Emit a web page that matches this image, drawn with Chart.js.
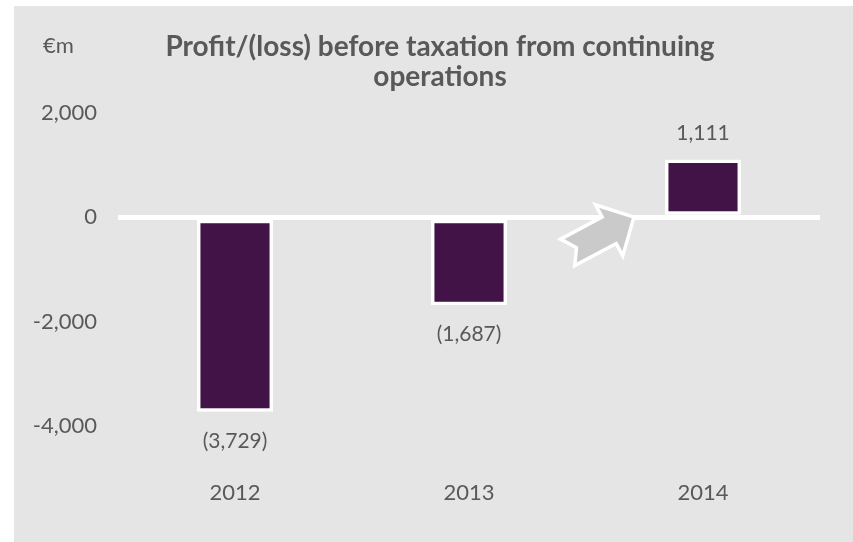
<!DOCTYPE html>
<html>
<head>
<meta charset="utf-8">
<script src="https://cdn.jsdelivr.net/npm/chart.js@4"></script>
<style>
  html, body { margin: 0; padding: 0; background: #fff; }
</style>
</head>
<body>
<canvas id="bar-chart" width="853" height="542"></canvas>
<script>
var years = ['2012', '2013', '2014'];
var profit = [-3729, -1687, 1111];
var yMin = -4000, yMax = 2000, yStep = 2000;
var titleLines = ['Profit/(loss) before taxation from continuing', 'operations'];
var unitLabel = '€m';

var textColor = '#595959';
var fontName = 'Lato, "Open Sans", sans-serif';

function fmt(v) {
  var s = Math.abs(v).toLocaleString('en-US');
  return v < 0 ? '(' + s + ')' : s;
}

// grey panel behind everything
var panelPlugin = {
  id: 'panel',
  beforeDraw: function(chart) {
    var c = chart.ctx;
    c.save();
    c.fillStyle = '#ffffff';
    c.fillRect(0, 0, chart.width, chart.height);
    c.fillStyle = '#e5e5e5';
    c.fillRect(14, 6, chart.width - 14, chart.height - 6);
    c.restore();
  }
};

// unit + two line title
var titlePlugin = {
  id: 'titleText',
  afterDraw: function(chart) {
    var c = chart.ctx;
    c.save();
    c.fillStyle = textColor;
    c.textBaseline = 'alphabetic';
    c.font = '22px ' + fontName;
    c.textAlign = 'left';
    c.fillText(unitLabel, 43, 53);
    c.font = 'bold 28px ' + fontName;
    c.textAlign = 'center';
    c.fillText(titleLines[0], 440, 56);
    c.fillText(titleLines[1], 440, 86);
    c.restore();
  }
};

// value labels above / below bars
var valueLabels = {
  id: 'valueLabels',
  afterDatasetsDraw: function(chart) {
    var c = chart.ctx;
    var meta = chart.getDatasetMeta(0);
    c.save();
    c.fillStyle = textColor;
    c.font = '21px ' + fontName;
    c.textAlign = 'center';
    c.textBaseline = 'middle';
    meta.data.forEach(function(bar, i) {
      var v = profit[i];
      var y = v < 0 ? bar.y + 29 : bar.y - 26;
      c.fillText(fmt(v), bar.x, y);
    });
    c.restore();
  }
};

// grey arrow between 2013 and 2014
var arrowPlugin = {
  id: 'arrow',
  afterDatasetsDraw: function(chart) {
    var xs = chart.scales.x, ys = chart.scales.y;
    var p1 = xs.getPixelForValue(1), p2 = xs.getPixelForValue(2);
    var cx = p1 + 0.565 * (p2 - p1);
    var cy = ys.getPixelForValue(-330);
    var pts = [[-38, -15], [9, -15], [9, -29], [37, 0], [9, 29], [9, 15], [-38, 15], [-28, 0]];
    var c = chart.ctx;
    c.save();
    c.translate(cx, cy);
    c.rotate(-28 * Math.PI / 180);
    c.beginPath();
    pts.forEach(function(p, i) {
      if (i === 0) c.moveTo(p[0], p[1]); else c.lineTo(p[0], p[1]);
    });
    c.closePath();
    c.fillStyle = '#cacaca';
    c.fill();
    c.lineWidth = 3.5;
    c.strokeStyle = '#ffffff';
    c.lineJoin = 'miter';
    c.stroke();
    c.restore();
  }
};

var ctx = document.getElementById('bar-chart');
var chart = new Chart(ctx, {
  type: 'bar',
  data: {
    labels: years,
    datasets: [{
      data: profit,
      backgroundColor: '#421347',
      borderColor: '#ffffff',
      borderWidth: 3.5,
      borderSkipped: false,
      barPercentage: 0.325,
      categoryPercentage: 1
    }]
  },
  options: {
    responsive: false,
    animation: false,
    devicePixelRatio: 1,
    layout: { padding: { top: 113, right: 33, left: 0, bottom: 0 } },
    plugins: {
      legend: { display: false },
      tooltip: { enabled: false }
    },
    scales: {
      x: {
        grid: { display: false },
        border: { display: false },
        ticks: { color: textColor, font: { family: fontName, size: 22 }, padding: 46 },
        afterFit: function(s) { s.height = 116; }
      },
      y: {
        min: yMin,
        max: yMax,
        border: { display: false },
        grid: {
          drawTicks: false,
          color: function(c) { return c.tick && c.tick.value === 0 ? '#ffffff' : 'rgba(0,0,0,0)'; },
          lineWidth: function(c) { return c.tick && c.tick.value === 0 ? 5 : 0; }
        },
        ticks: {
          stepSize: yStep,
          padding: 21,
          color: textColor,
          font: { family: fontName, size: 22 },
          callback: function(v) { return v.toLocaleString('en-US'); }
        },
        afterFit: function(s) { s.width = 118; }
      }
    }
  },
  plugins: [panelPlugin, titlePlugin, valueLabels, arrowPlugin]
});
</script>
</body>
</html>
